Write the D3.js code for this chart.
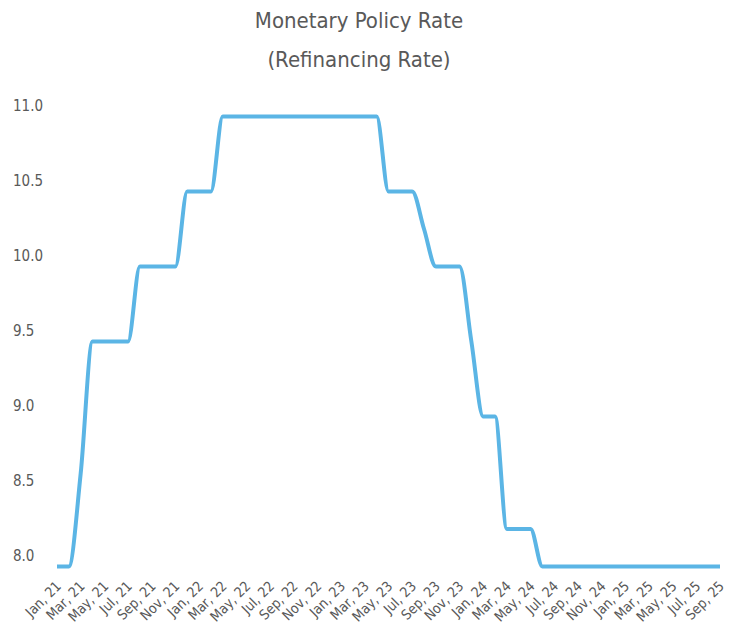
<!DOCTYPE html>
<meta charset="utf-8">
<script src="https://d3js.org/d3.v7.min.js"></script>
<style>
  body { margin: 0; background: #fff; }
  text { font-family: "Liberation Sans Narrow", "DejaVu Sans Condensed", sans-serif; fill: #595959; }
</style>
<div id="chart"></div>
<script>

// months Jan 21 .. Sep 25
const monthNames = ["Jan", "Feb", "Mar", "Apr", "May", "Jun", "Jul", "Aug", "Sep", "Oct", "Nov", "Dec"];
const months = [];
for (let y = 21; y <= 25; y++) {
    for (let m = 0; m < 12; m++) {
        if (y === 25 && m > 8) break;
        months.push(monthNames[m] + ", " + y);
    }
}

// refinancing rate, one value per month
const rates = [
    7.93, 7.93, 8.55, 9.43, 9.43, 9.43, 9.43, 9.93, 9.93, 9.93, 9.93, 10.43, // 2021
    10.43, 10.43, 10.93, 10.93, 10.93, 10.93, 10.93, 10.93, 10.93, 10.93, 10.93, 10.93, // 2022
    10.93, 10.93, 10.93, 10.93, 10.43, 10.43, 10.43, 10.18, 9.93, 9.93, 9.93, 9.43, // 2023
    8.93, 8.93, 8.18, 8.18, 8.18, 7.93, 7.93, 7.93, 7.93, 7.93, 7.93, 7.93, // 2024
    7.93, 7.93, 7.93, 7.93, 7.93, 7.93, 7.93, 7.93, 7.93 // 2025
];

const yTicks = [8.0, 8.5, 9.0, 9.5, 10.0, 10.5, 11.0];
const tickLabels = months.filter((d, i) => i % 2 === 0); // every other month

const width = 740, height = 625;

const svg = d3.select("#chart")
    .append("svg")
    .attr("width", width)
    .attr("height", height);

// title
svg.append("text")
    .attr("x", 359).attr("y", 28)
    .attr("text-anchor", "middle")
    .style("font-size", "22px")
    .text("Monetary Policy Rate");
svg.append("text")
    .attr("x", 359).attr("y", 67)
    .attr("text-anchor", "middle")
    .style("font-size", "22px")
    .text("(Refinancing Rate)");

const x = d3.scalePoint()
    .domain(months)
    .range([57, 720]);

const y = d3.scaleLinear()
    .domain([8, 11])
    .range([556, 106]);

// y axis, labels only
const yAxis = svg.append("g")
    .call(d3.axisLeft(y).tickValues(yTicks).tickSize(0).tickFormat(d3.format(".1f")));
yAxis.select(".domain").remove();
yAxis.selectAll("text")
    .attr("x", 13)
    .attr("text-anchor", "start")
    .style("font-size", "15px")
    .style("font-family", null)
    .attr("fill", "#595959");

// x axis, rotated labels
const xAxis = svg.append("g")
    .call(d3.axisBottom(x).tickValues(tickLabels).tickSize(0));
xAxis.select(".domain").remove();
xAxis.selectAll(".tick").attr("transform", null);
xAxis.selectAll("text")
    .attr("y", null).attr("dy", null)
    .attr("transform", d => `translate(${x(d) + 5},587) rotate(-45)`)
    .attr("text-anchor", "end")
    .style("font-size", "14px")
    .attr("fill", "#595959");

// the rate line
const line = d3.line()
    .x((d, i) => x(months[i]))
    .y(d => y(d))
    .curve(d3.curveMonotoneX);

svg.append("path")
    .datum(rates)
    .attr("fill", "none")
    .attr("stroke", "#5bb5e5")
    .attr("stroke-width", 4)
    .attr("stroke-linejoin", "round")
    .attr("d", line);

</script>
